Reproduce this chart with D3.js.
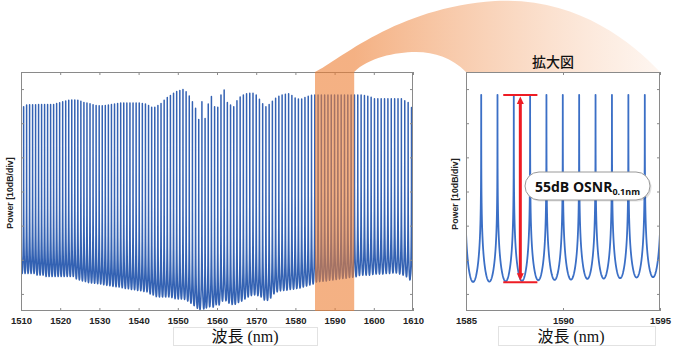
<!DOCTYPE html>
<html><head><meta charset="utf-8">
<script src="https://cdn.jsdelivr.net/npm/d3@7"></script>
<style>html,body{margin:0;padding:0;background:#fff}svg{display:block}</style>
</head><body>
<svg id="chart" width="680" height="356"></svg>
<script>
// ================= DATA =================
// 100 GHz comb: first listed channel frequency (THz) and spacing
const combStartTHz = 198.55;
const combSpacingTHz = 0.1;
// peak power of each comb line (dB, 10 dB/div axis), from shortest wavelength
const peakDb = [
 -15.0,-15.2,-14.7,-14.6,-14.6,-14.6,-14.5,-14.5,-14.5,-14.5,
 -14.5,-14.5,-14.2,-14.0,-13.7,-13.5,-13.3,-13.2,-13.2,-13.3,
 -13.6,-13.9,-14.1,-14.3,-14.6,-14.8,-14.9,-14.9,-14.8,-14.7,
 -14.5,-14.4,-14.2,-14.1,-14.1,-14.1,-14.1,-14.1,-14.1,-14.1,
 -14.2,-14.4,-14.8,-15.3,-15.3,-14.8,-14.2,-13.3,-12.5,-11.9,
 -11.2,-10.7,-10.4,-10.1,-10.8,-12.0,-13.7,-15.6,-18.9,-13.7,
 -18.6,-14.4,-12.2,-15.2,-15.3,-11.7,-10.3,-13.9,-14.7,-15.2,
 -13.4,-12.3,-11.7,-11.4,-11.2,-11.2,-11.7,-13.0,-14.3,-15.2,
 -14.5,-13.6,-12.7,-12.1,-11.7,-11.5,-11.4,-11.9,-12.6,-12.9,
 -12.9,-12.5,-12.1,-11.8,-11.7,-11.7,-11.7,-11.7,-11.7,-11.7,
 -11.7,-11.7,-11.7,-11.7,-11.7,-11.7,-11.7,-11.7,-11.7,-11.9,
 -12.1,-12.4,-12.8,-12.8,-12.8,-12.8,-12.8,-12.8,-12.8,-12.8,
 -12.8,-13.4,-13.9,-15.4,-16.5
];
// noise floor (dB) in the gap after each comb line
const floorDb = [
 -64.0,-64.0,-64.0,-64.0,-64.0,-64.5,-64.5,-64.5,-64.9,-64.9,
 -64.9,-64.9,-64.9,-64.9,-64.9,-64.9,-64.9,-64.9,-65.6,-65.9,
 -66.2,-66.4,-66.7,-66.8,-66.9,-67.0,-67.1,-67.3,-67.5,-67.6,
 -67.8,-67.9,-68.0,-68.2,-68.4,-68.5,-68.7,-68.8,-69.0,-69.1,
 -69.3,-69.4,-70.0,-70.3,-70.8,-70.9,-70.9,-70.9,-70.9,-71.1,
 -71.4,-71.5,-71.5,-71.6,-72.1,-72.7,-73.4,-74.0,-74.1,-74.0,
 -73.8,-73.7,-73.7,-73.2,-73.0,-72.1,-71.8,-72.7,-73.1,-73.0,
 -72.5,-72.1,-71.5,-70.9,-70.5,-70.3,-70.5,-70.9,-71.8,-71.9,
 -71.2,-70.0,-69.4,-69.1,-69.0,-68.9,-68.7,-68.6,-68.4,-68.3,
 -68.0,-67.7,-67.4,-67.1,-66.5,-66.4,-66.3,-66.2,-66.0,-65.9,
 -65.8,-65.6,-65.5,-65.4,-65.2,-65.1,-65.0,-64.6,-64.5,-64.5,
 -64.5,-64.3,-64.2,-64.2,-64.2,-64.0,-64.0,-63.9,-63.9,-64.2,
 -64.5,-65.0,-65.9,-66.5
];
const mainRange = [1510, 1610];
const zoomRange = [1585, 1595];
const xTicksMain = [1510,1520,1530,1540,1550,1560,1570,1580,1590,1600,1610];
const xTicksZoom = [1585,1590,1595];
const yDomainDb = [-75, -5];
const yTicksDb = [-70,-60,-50,-40,-30,-20,-10];
const xTitle = "波長 (nm)";
const yTitle = "Power [10dB/div]";
const zoomTitle = "拡大図";
const osnrText = "55dB OSNR";
const osnrSub = "0.1nm";
const osnrWavelength = 1587.8;
const osnrBarHalfNm = 0.88;
const osnrTopDb = -11.7;
const osnrBottomDb = -66.6;

// ================= DRAW =================
const svg = d3.select("#chart");
const C = 299792.458;
const channels = peakDb.map((p,i)=>({wl: C/(combStartTHz - i*combSpacingTHz), peak:p}));

const mainF = {x0:21, x1:413, y0:72, y1:311};
const zoomF = {x0:466, x1:660, y0:72, y1:311};
const xMain = d3.scaleLinear(mainRange, [mainF.x0, mainF.x1]);
const xZoom = d3.scaleLinear(zoomRange, [zoomF.x0, zoomF.x1]);
const y = d3.scaleLinear(yDomainDb, [mainF.y1, mainF.y0]);

function spectrum(domain, n){
  const pts = [];
  for (let i=0;i<channels.length-1;i++){
    const a = channels[i], b = channels[i+1];
    if (b.wl < domain[0]-1 || a.wl > domain[1]+1) continue;
    const d = b.wl - a.wl;
    const Aa = Math.pow(10,a.peak/10), Ab = Math.pow(10,b.peak/10), F = Math.pow(10,floorDb[i]/10);
    const g2 = F*(d/2)*(d/2)/(Aa+Ab);
    for (let j=0;j<n;j++){
      const t = 0.5-0.5*Math.cos(Math.PI*j/n);
      const u = d*t, v = d-u;
      const p = Aa*g2/(u*u+g2) + Ab*g2/(v*v+g2);
      pts.push({wl:a.wl+u, db:10*Math.log10(p)});
    }
    pts.push({wl:b.wl, db:b.peak});
  }
  return pts;
}

const defs = svg.append("defs");
defs.append("clipPath").attr("id","clipMain").append("rect")
  .attr("x",mainF.x0).attr("y",mainF.y0).attr("width",mainF.x1-mainF.x0).attr("height",mainF.y1-mainF.y0);
defs.append("clipPath").attr("id","clipZoom").append("rect")
  .attr("x",zoomF.x0).attr("y",zoomF.y0).attr("width",zoomF.x1-zoomF.x0).attr("height",zoomF.y1-zoomF.y0);
const bx0 = xMain(zoomRange[0]), bx1 = xMain(zoomRange[1]);
const grad = defs.append("linearGradient").attr("id","arcGrad").attr("gradientUnits","userSpaceOnUse")
  .attr("x1",bx1).attr("y1",0).attr("x2",zoomF.x1).attr("y2",0);
grad.append("stop").attr("offset",0).attr("stop-color","#ED7D31").attr("stop-opacity",0.6);
grad.append("stop").attr("offset",0.5).attr("stop-color","#EF8A45").attr("stop-opacity",0.34);
grad.append("stop").attr("offset",1).attr("stop-color","#F4A26A").attr("stop-opacity",0.1);

// spectra
const lineMain = d3.line().x(d=>xMain(d.wl)).y(d=>y(d.db));
const lineZoom = d3.line().x(d=>xZoom(d.wl)).y(d=>y(d.db));
svg.append("path").attr("clip-path","url(#clipMain)")
  .attr("d", lineMain(spectrum(mainRange, 24)))
  .attr("fill","none").attr("stroke","#3462b3").attr("stroke-width",1.5).attr("stroke-linejoin","round");
svg.append("path").attr("clip-path","url(#clipZoom)")
  .attr("d", lineZoom(spectrum(zoomRange, 90)))
  .attr("fill","none").attr("stroke","#3b6fc6").attr("stroke-width",1.8).attr("stroke-linejoin","round");

// axes/frames
function axes(x, F, ticks){
  const g = svg.append("g");
  const b = g.append("g").attr("transform",`translate(0,${F.y1})`)
    .call(d3.axisBottom(x).tickValues(ticks).tickSize(-3).tickPadding(6).tickFormat(d3.format("d")));
  g.append("g").attr("transform",`translate(0,${F.y0})`)
    .call(d3.axisTop(x).tickValues(ticks).tickSize(-3).tickFormat(""));
  g.append("g").attr("transform",`translate(${F.x0},0)`)
    .call(d3.axisLeft(y).tickValues(yTicksDb).tickSize(-3).tickFormat(""));
  g.append("g").attr("transform",`translate(${F.x1},0)`)
    .call(d3.axisRight(y).tickValues(yTicksDb).tickSize(-3).tickFormat(""));
  g.selectAll(".domain").remove();
  g.selectAll(".tick line").attr("stroke","#8a8a8a");
  b.selectAll("text").attr("font-family","'Liberation Sans', Arial, sans-serif")
    .attr("font-size",9.5).attr("font-weight","bold").attr("fill","#222");
  g.append("rect").attr("x",F.x0+0.5).attr("y",F.y0+0.5)
    .attr("width",F.x1-F.x0-1).attr("height",F.y1-F.y0-1)
    .attr("fill","none").attr("stroke","#8a8a8a").attr("stroke-width",1);
}
axes(xMain, mainF, xTicksMain);
axes(xZoom, zoomF, xTicksZoom);

// highlight band + arc
const topY = mainF.y0;
const arcD = `M${bx0},${mainF.y1} L${bx0},${topY}
 C${bx0+25},60 ${bx0+80},8 495,1 C575,-3 630,40 ${zoomF.x1},${topY}
 L${zoomF.x0},${topY} C452,58 435,52 416,52 C395,52 368,58 ${bx1},${topY}
 L${bx1},${mainF.y1} Z`;
svg.append("path").attr("d",arcD).attr("fill","url(#arcGrad)");

// y titles
[[10,193],[455,194]].forEach(([px,py])=>{
  svg.append("text").attr("transform",`translate(${px},${py}) rotate(-90)`)
    .attr("text-anchor","middle").attr("dominant-baseline","central")
    .attr("font-family","'Liberation Sans', Arial, sans-serif").attr("font-size",8.8)
    .attr("font-weight","bold").attr("fill","#222").text(yTitle);
});

// x title boxes
[[173,327,144,18,245],[498,326,157,19,571]].forEach(([bx,by,bw,bh,cx])=>{
  svg.append("rect").attr("x",bx+0.5).attr("y",by+0.5).attr("width",bw).attr("height",bh)
    .attr("fill","#fff").attr("stroke","#e2e2e2");
  svg.append("text").attr("x",cx).attr("y",by+bh-3.5).attr("text-anchor","middle")
    .attr("font-family","'Liberation Serif','Noto Sans CJK JP',serif").attr("font-size",16)
    .attr("fill","#111").text(xTitle);
});

// zoom title
svg.append("text").attr("x",553).attr("y",67).attr("text-anchor","middle")
  .attr("font-family","'Noto Sans CJK JP',sans-serif").attr("font-size",14).attr("font-weight",500)
  .attr("fill","#111").text(zoomTitle);

// OSNR arrow
const red = "#ee1c24";
const ax = xZoom(osnrWavelength), yT = y(osnrTopDb), yB = y(osnrBottomDb);
const bL = xZoom(osnrWavelength-osnrBarHalfNm), bR = xZoom(osnrWavelength+osnrBarHalfNm);
const ga = svg.append("g");
ga.append("line").attr("x1",bL).attr("x2",bR).attr("y1",yT).attr("y2",yT).attr("stroke",red).attr("stroke-width",2);
ga.append("line").attr("x1",bL).attr("x2",bR).attr("y1",yB).attr("y2",yB).attr("stroke",red).attr("stroke-width",2);
ga.append("line").attr("x1",ax).attr("x2",ax).attr("y1",yT+8).attr("y2",yB-8).attr("stroke",red).attr("stroke-width",3);
ga.append("path").attr("d",`M${ax},${yT+1.5} L${ax-3.5},${yT+9} L${ax+3.5},${yT+9} Z`).attr("fill",red);
ga.append("path").attr("d",`M${ax},${yB-1.5} L${ax-3.5},${yB-9} L${ax+3.5},${yB-9} Z`).attr("fill",red);

// OSNR label
svg.append("rect").attr("x",526.5).attr("y",173.5).attr("width",125).attr("height",28).attr("rx",14)
  .attr("fill","#000").attr("opacity",0.12);
svg.append("rect").attr("x",525).attr("y",172).attr("width",125).attr("height",28).attr("rx",14)
  .attr("fill","#fff").attr("stroke","#9a9a9a").attr("stroke-width",1);
const lt = svg.append("text").attr("x",535).attr("y",191.5)
  .attr("font-family","'Open Sans',sans-serif").attr("font-weight","bold").attr("font-size",14).attr("fill","#111");
lt.append("tspan").text(osnrText);
lt.append("tspan").attr("dy",3.5).attr("font-size",9).text(osnrSub);
</script>
</body></html>
